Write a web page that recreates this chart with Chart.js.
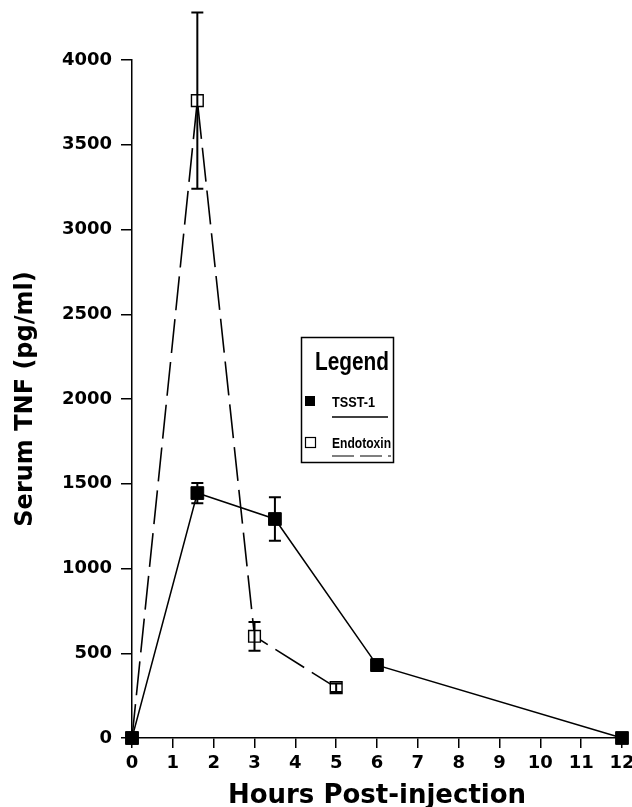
<!DOCTYPE html>
<html>
<head>
<meta charset="utf-8">
<script src="https://cdn.jsdelivr.net/npm/chart.js@4/dist/chart.umd.min.js"></script>
<style>
  html, body { margin: 0; padding: 0; background: #fff; }
  canvas { display: block; }
</style>
</head>
<body>
<canvas id="tnfChart" width="632" height="807"></canvas>
<script>
// values
const tsstHours = [0, 1.6, 3.5, 6, 12];
const tsstTnf = [0, 1445, 1292, 430, 0];
const tsstErr = [0, 60, 128, 35, 0];

const endoHours = [0, 1.6, 3, 5];
const endoTnf = [0, 3760, 600, 297];
const endoErr = [0, 520, 85, 25];

const xTicks = [0, 1, 2, 3, 4, 5, 6, 7, 8, 9, 10, 11, 12];
const yTicks = [0, 500, 1000, 1500, 2000, 2500, 3000, 3500, 4000];

const FONT = "'DejaVu Sans', sans-serif";
const LEGEND_FONT = "'Liberation Sans', Arial, sans-serif";

function toPoints(xs, ys) {
    return xs.map((x, i) => ({ x: x, y: ys[i] }));
}

// vertical error bars with caps, placed through the chart scales
const errorBars = {
    id: 'errorBars',
    afterDatasetsDraw(chart) {
        const ctx = chart.ctx;
        const xs = chart.scales.x, ys = chart.scales.y;
        chart.data.datasets.forEach((ds) => {
            if (!ds.errors) return;
            ctx.save();
            ctx.strokeStyle = '#000';
            ctx.lineWidth = 2;
            ds.data.forEach((p, i) => {
                const e = ds.errors[i];
                if (!e) return;
                const px = xs.getPixelForValue(p.x);
                const top = ys.getPixelForValue(p.y + e);
                const bot = ys.getPixelForValue(p.y - e);
                ctx.beginPath();
                ctx.moveTo(px, top);
                ctx.lineTo(px, bot);
                ctx.moveTo(px - 6, top);
                ctx.lineTo(px + 6, top);
                ctx.moveTo(px - 6, bot);
                ctx.lineTo(px + 6, bot);
                ctx.stroke();
            });
            ctx.restore();
        });
    }
};

// boxed legend like the original figure
const boxLegend = {
    id: 'boxLegend',
    afterDraw(chart) {
        const ctx = chart.ctx;
        ctx.save();
        ctx.strokeStyle = '#000';
        ctx.fillStyle = '#000';
        ctx.lineWidth = 1.5;
        ctx.strokeRect(301.5, 337.5, 92, 125);

        ctx.textBaseline = 'alphabetic';
        ctx.textAlign = 'left';
        ctx.font = "bold 26px " + LEGEND_FONT;
        ctx.fillText('Legend', 315, 370, 74);

        ctx.font = "bold 15px " + LEGEND_FONT;
        // TSST-1 row
        ctx.fillRect(305, 396, 10, 10);
        ctx.fillText('TSST-1', 332, 407, 43);
        ctx.lineWidth = 1.3;
        ctx.beginPath();
        ctx.moveTo(332, 417);
        ctx.lineTo(388, 417);
        ctx.stroke();

        // Endotoxin row
        ctx.lineWidth = 1.2;
        ctx.strokeRect(305.5, 437.5, 10, 10);
        ctx.fillText('Endotoxin', 332, 448, 59);
        ctx.setLineDash([22, 6]);
        ctx.beginPath();
        ctx.moveTo(332, 456);
        ctx.lineTo(391, 456);
        ctx.stroke();
        ctx.restore();
    }
};

const ctx = document.getElementById('tnfChart').getContext('2d');

const tnfChart = new Chart(ctx, {
    type: 'line',
    data: {
        datasets: [{
            label: 'TSST-1',
            data: toPoints(tsstHours, tsstTnf),
            errors: tsstErr,
            borderColor: '#000',
            borderWidth: 1.5,
            pointStyle: 'rect',
            pointRadius: 9,
            pointBackgroundColor: '#000',
            pointBorderColor: '#000',
            pointBorderWidth: 1,
            tension: 0,
            clip: false
        }, {
            label: 'Endotoxin',
            data: toPoints(endoHours, endoTnf),
            errors: endoErr,
            borderColor: '#000',
            borderWidth: 1.6,
            borderDash: [34, 9],
            pointStyle: 'rect',
            pointRadius: 8.3,
            pointBackgroundColor: '#fff',
            pointBorderColor: '#000',
            pointBorderWidth: 1.4,
            tension: 0,
            clip: false
        }]
    },
    options: {
        responsive: false,
        animation: false,
        devicePixelRatio: 1,
        layout: { padding: { top: 60, right: 10, left: 0, bottom: 0 } },
        plugins: {
            legend: { display: false },
            tooltip: { enabled: false }
        },
        scales: {
            x: {
                type: 'linear',
                min: 0,
                max: 12,
                afterFit: (scale) => { scale.height = 69; scale.paddingRight = 0; scale.paddingLeft = 0; },
                afterBuildTicks: (scale) => { scale.ticks = xTicks.map(v => ({ value: v })); },
                ticks: {
                    color: '#000',
                    padding: 5,
                    callback: (v) => String(v),
                    font: { family: FONT, weight: 'bold', size: 18 }
                },
                grid: {
                    drawOnChartArea: false,
                    drawTicks: true,
                    tickLength: 10,
                    color: '#000',
                    lineWidth: 1.5
                },
                border: { display: true, color: '#000', width: 1.5 },
                title: {
                    display: true,
                    text: 'Hours Post-injection',
                    color: '#000',
                    padding: 0,
                    font: { family: FONT, weight: 'bold', size: 26, lineHeight: 0.8 }
                }
            },
            y: {
                type: 'linear',
                min: 0,
                max: 4000,
                afterFit: (scale) => { scale.width = 132; },
                afterBuildTicks: (scale) => { scale.ticks = yTicks.map(v => ({ value: v })); },
                ticks: {
                    color: '#000',
                    padding: 9,
                    callback: (v) => String(v),
                    font: { family: FONT, weight: 'bold', size: 18 }
                },
                grid: {
                    drawOnChartArea: false,
                    drawTicks: true,
                    tickLength: 11,
                    color: '#000',
                    lineWidth: 1.5
                },
                border: { display: true, color: '#000', width: 1.5 },
                title: {
                    display: true,
                    text: 'Serum TNF (pg/ml)',
                    color: '#000',
                    padding: { top: 11, bottom: 0 },
                    font: { family: FONT, weight: 'bold', size: 24 }
                }
            }
        }
    },
    plugins: [errorBars, boxLegend]
});
</script>
</body>
</html>
